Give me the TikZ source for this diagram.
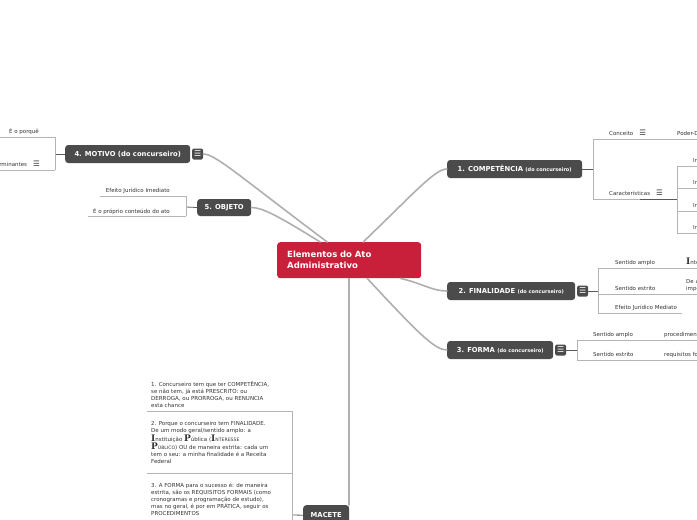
\documentclass[tikz,border=0pt]{standalone}
\usepackage{fontspec}
\setmainfont{DejaVu Sans}
\newfontfamily\bigserif{DejaVu Serif}
\usetikzlibrary{positioning}

\definecolor{rootred}{HTML}{C8203A}
\definecolor{topicgray}{HTML}{4B4B4B}
\definecolor{trunkgray}{HTML}{AFAFAF}
\definecolor{branchgray}{HTML}{B4B4B4}
\definecolor{stemgray}{HTML}{5A5A5A}
\definecolor{leaftext}{HTML}{333333}

\newcommand{\bigL}[1]{{\bigserif\bfseries\fontsize{9}{9}\selectfont #1}}
\newcommand{\smallcap}[1]{{\fontsize{4.6}{6}\selectfont #1}}
\newcommand{\menuicon}{{\fontsize{7.5}{7.5}\selectfont ☰}}

\begin{document}
\begin{tikzpicture}[x=1pt, y=-1pt,
  root/.style={fill=rootred, rounded corners=3pt, text=white, font=\fontsize{8.5}{11}\selectfont\bfseries, align=left, text width=124pt, inner xsep=10pt, minimum height=36pt, anchor=north west},
  topic/.style={fill=topicgray, rounded corners=3pt, text=white, font=\fontsize{6.8}{8}\selectfont\bfseries, minimum height=18pt, inner xsep=0pt, anchor=west},
  menu/.style={fill=topicgray, rounded corners=1.5pt, minimum size=11pt, inner sep=0pt, text=white, font=\fontsize{8}{8}\selectfont},
  trunk/.style={draw=trunkgray, line width=1.6pt, line cap=round},
  stem/.style={draw=stemgray, line width=0.8pt},
  branch/.style={draw=branchgray, line width=0.7pt},
  leaf/.style={font=\fontsize{5.5}{7}\selectfont, text=leaftext, inner sep=0pt},
  note/.style={leaf, align=left, anchor=north west}
]
\useasboundingbox (0,0) rectangle (697,520);

% central topic
\node[root] (root) at (277,242) {Elementos do Ato\\Administrativo};

% main topics
\node[topic, minimum width=135pt] (comp) at (447,169) {1. COMPETÊNCIA {\fontsize{5}{6}\selectfont(do concurseiro)}};
\node[topic, minimum width=128pt] (fin) at (447,291) {2. FINALIDADE {\fontsize{5}{6}\selectfont(do concurseiro)}};
\node[menu, right=1.5pt of fin] (finm) {☰};
\node[topic, minimum width=106pt] (forma) at (447,350) {3. FORMA {\fontsize{5}{6}\selectfont(do concurseiro)}};
\node[menu, right=1.5pt of forma] (formam) {☰};
\node[topic, minimum width=125pt] (mot) at (65,154) {4. MOTIVO (do concurseiro)};
\node[menu, right=1.5pt of mot] (motm) {☰};
\node[topic, minimum width=54pt, minimum height=17pt] (obj) at (197,207.5) {5. OBJETO};
\node[topic, minimum width=46pt, minimum height=20pt, anchor=north west] (macete) at (303,505) {MACETE};

% ligacoes ao centro
\draw[trunk] ([xshift=14pt]root.north) .. controls +(52,-50) and +(-12,0) .. (comp.west);
\draw[trunk] ([xshift=-21pt]root.south east) .. controls +(22,5) and +(-15,0) .. (fin.west);
\draw[trunk] ([xshift=18pt]root.south) .. controls +(52,56) and +(-12,0) .. (forma.west);
\draw[trunk] ([xshift=-22pt]root.north) .. controls +(-88,-66) and +(12,0) .. (motm.east);
\draw[trunk] ([xshift=-29pt]root.north) .. controls +(-45,-28) and +(10,0) .. (obj.east);
\draw[trunk] (root.south) -- (root.south |- macete.north);

% 1. competencia
\draw[stem] (comp.east) -- (593,169);
\draw[branch] (593,139) -- (593,199);
\draw[branch] (593,139) -- (700,139);
\draw[branch] (593,199) -- (640,199);
\draw[stem] (640,199) -- (677,199);
\draw[branch] (677,166) -- (677,233);
\foreach \y in {166,188,211,233} \draw[branch] (677,\y) -- (700,\y);
\node[leaf, anchor=base west] (conc) at (609,135) {Conceito\hspace{6pt}\menuicon};
\node[leaf, anchor=base west] (poder) at (677,135) {Poder-Dever};
\node[leaf, anchor=base west] (carac) at (609,195) {Características\hspace{6pt}\menuicon};
\node[leaf, anchor=base west] (ca1) at (693,162) {Imprescritível};
\node[leaf, anchor=base west] (ca2) at (693,184) {Inderrogável};
\node[leaf, anchor=base west] (ca3) at (693,207) {Improrrogável};
\node[leaf, anchor=base west] (ca4) at (693,229) {Irrenunciável};

% 2. finalidade
\draw[stem] (finm.east) -- (598,291);
\draw[branch] (598,268) -- (598,313);
\draw[branch] (598,268) -- (700,268);
\draw[branch] (598,294) -- (700,294);
\draw[branch] (598,313) -- (682,313);
\node[leaf, anchor=base west] (fa) at (615,264) {Sentido amplo};
\node[leaf, anchor=base west] (fa1) at (686,264) {\bigL{I}nteresse Público};
\node[leaf, anchor=base west] (fe) at (615,290) {Sentido estrito};
\node[note] (fe1) at (686,279) {De acordo com a\\imposição legal};
\node[leaf, anchor=base west] (fm) at (615,309) {Efeito Jurídico Mediato};

% 3. forma
\draw[stem] (formam.east) -- (577,350);
\draw[branch] (577,340) -- (577,360);
\draw[branch] (577,340) -- (700,340);
\draw[branch] (577,360) -- (700,360);
\node[leaf, anchor=base west] (sa) at (593,336) {Sentido amplo};
\node[leaf, anchor=base west] (sa1) at (664,336) {procedimentos};
\node[leaf, anchor=base west] (se) at (593,356) {Sentido estrito};
\node[leaf, anchor=base west] (se1) at (664,356) {requisitos formais};

% 4. motivo
\draw[stem] (mot.west) -- (55,154);
\draw[branch] (55,137) -- (55,170);
\draw[branch] (-3,137) -- (55,137);
\draw[branch] (-3,170) -- (55,170);
\node[leaf, anchor=base east] (porque) at (39,133) {É o porquê};
\node[leaf, anchor=base east] (teoria) at (40,166) {Teoria dos Motivos Determinantes\hspace{6pt}\menuicon};

% 5. objeto
\draw[stem] (obj.west) -- (186,207);
\draw[branch] (186,196) -- (186,216);
\draw[branch] (100,196) -- (186,196);
\draw[branch] (88,216) -- (186,216);
\node[leaf, anchor=base east] (imed) at (170,192) {Efeito Jurídico Imediato};
\node[leaf, anchor=base east] (cont) at (170,213) {É o próprio conteúdo do ato};

% macete
\draw[stem] (macete.west) -- (292,515);
\draw[branch] (292,411) -- (292,525);
\draw[branch] (147,411) -- (292,411);
\draw[branch] (147,473) -- (292,473);
\node[note] (n1) at (151,381) {1. Concurseiro tem que ter COMPETÊNCIA,\\se não tem, já está PRESCRITO: ou\\DERROGA, ou PRORROGA, ou RENUNCIA\\esta chance};
\node[note] (n2) at (151,421) {2. Porque o concurseiro tem FINALIDADE.\\De um modo geral/sentido amplo: a\\\bigL{I}nstituição \bigL{P}ública (\bigL{I}\smallcap{NTERESSE}\\\bigL{P}\smallcap{ÚBLICO}) OU de maneira estrita: cada um\\tem o seu: a minha finalidade é a Receita\\Federal};
\node[note] (n3) at (151,483) {3. A FORMA para o sucesso é: de maneira\\estrita, são os REQUISITOS FORMAIS (como\\cronogramas e programação de estudo),\\mas no geral, é por em PRÁTICA, seguir os\\PROCEDIMENTOS};
\end{tikzpicture}
\end{document}
